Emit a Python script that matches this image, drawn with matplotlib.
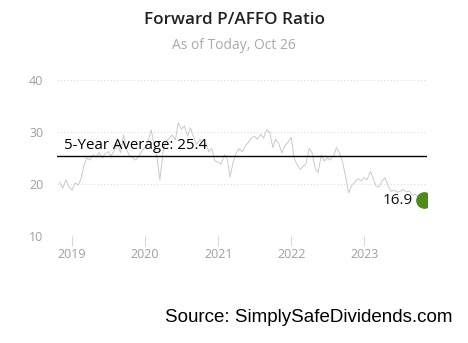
import matplotlib
matplotlib.use("Agg")
import matplotlib.pyplot as plt
import matplotlib.dates as mdates
import pandas as pd

# semi-monthly readings of the forward P/AFFO ratio (1st and 15th of each month)
start = "2018-11-01"
ratio = [
    20.3, 19.2, 20.8, 19.5,                                  # Nov-Dec 2018
    18.8, 20.2, 19.8, 21.0, 23.5, 25.0, 24.6, 25.6, 25.2, 26.0, 25.0, 25.8,
    26.2, 25.4, 26.5, 27.8, 26.0, 29.4, 26.5, 25.5, 25.0, 24.6, 25.4, 26.3,  # 2019
    27.0, 28.0, 30.4, 27.5, 25.0, 20.8, 26.5, 28.2, 28.8, 29.4, 28.5, 31.8,
    30.5, 31.2, 29.2, 30.8, 28.8, 27.6, 28.6, 27.4, 27.8, 26.2, 26.8, 24.4,  # 2020
    24.2, 23.8, 25.6, 24.8, 21.3, 24.0, 26.0, 26.8, 26.2, 27.2, 28.0, 28.8,
    29.2, 28.6, 29.5, 28.8, 30.4, 30.0, 27.0, 28.6, 27.6, 26.0, 27.4, 28.0,  # 2021
    29.0, 25.0, 23.6, 22.8, 23.4, 23.8, 26.8, 26.0, 23.0, 22.2, 25.6, 24.4,
    25.0, 24.6, 25.4, 27.0, 25.8, 24.2, 21.2, 18.3, 19.8, 20.4, 21.0, 20.6,  # 2022
    21.2, 20.8, 22.4, 21.0, 19.6, 19.4, 20.6, 21.2, 19.6, 18.6, 18.8, 18.4,
    18.6, 18.9, 18.5, 18.6, 17.8, 18.0, 17.4, 17.2,                          # 2023
]
last_date = "2023-10-26"
last_value = 16.9
average = 25.4

dates = list(pd.date_range(start, periods=len(ratio) // 2, freq="MS"))
dates = [d + pd.Timedelta(days=k * 14) for d in dates for k in (0, 1)]
dates.append(pd.Timestamp(last_date))
values = ratio + [last_value]

fig = plt.figure(figsize=(4.68, 3.43), dpi=100)
ax = fig.add_axes([0.122, 0.312, 0.79, 0.455])

ax.plot(dates, values, color="#cacaca", lw=0.7, zorder=2)
ax.axhline(average, color="black", lw=1, zorder=3)
ax.text(pd.Timestamp("2018-11-22"), average + 0.5, "5-Year Average: %.1f" % average,
        fontsize=10.8, family="Open Sans", color="black", va="bottom", ha="left")

ax.plot(pd.Timestamp(last_date), last_value, "o", color="#4f8a1b", ms=11, zorder=5)
ax.text(pd.Timestamp("2023-09-01"), last_value, "%.1f" % last_value, fontsize=11,
        family="Open Sans", color="#111111", va="center", ha="right")

ax.set_ylim(10, 40)
ax.set_xlim(pd.Timestamp("2018-10-18"), pd.Timestamp("2023-11-10"))
ax.set_yticks([10, 20, 30, 40])
ax.xaxis.set_major_locator(mdates.YearLocator())
ax.xaxis.set_major_formatter(mdates.DateFormatter("%Y"))
ax.grid(axis="y", linestyle=(0, (1, 2)), color="#dcdcdc", lw=0.8)
ax.set_axisbelow(True)
for s in ax.spines.values():
    s.set_visible(False)
ax.tick_params(axis="y", length=0, pad=10, labelsize=9, labelcolor="#a0a0a0")
ax.tick_params(axis="x", length=7, width=0.8, color="#d8d8d8", pad=2,
               labelsize=9, labelcolor="#a0a0a0")
for lab in ax.get_xticklabels() + ax.get_yticklabels():
    lab.set_family("Open Sans")

fig.text(0.5, 0.942, "Forward P/AFFO Ratio", ha="center", va="center",
         fontsize=12.3, family="Open Sans", weight="semibold", color="#222222")
fig.text(0.5, 0.866, "As of Today, Oct 26", ha="center", va="center",
         fontsize=10, family="Open Sans", color="#aaaaaa")
fig.text(0.966, 0.073, "Source: SimplySafeDividends.com", ha="right", va="center",
         fontsize=13.5, family="Liberation Sans", color="black")

fig.savefig("out.png", dpi=100)
